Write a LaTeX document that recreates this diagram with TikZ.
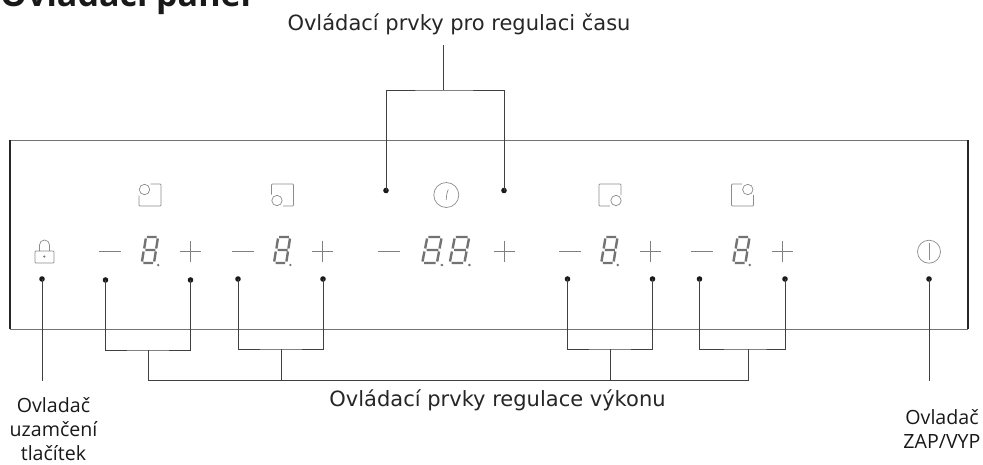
\documentclass[tikz,border=0pt]{standalone}
\usepackage{fontspec}
\setmainfont{Open Sans}
\newfontfamily\wide{DejaVu Sans}
\tikzset{
  x=1pt,y=-1pt,
  leader/.style={draw=black!75!white,line width=0.9pt},
  dotn/.style={circle,fill=black!90,inner sep=0pt,minimum size=5.6pt},
  ico/.style={draw=black!45,line width=0.7pt},
  sym/.style={draw=black!50,line width=0.7pt},
  lab/.style={inner sep=0pt,text=black!90,font=\fontsize{19.6}{24}\selectfont,align=center},
  widelab/.style={inner sep=0pt,text=black!85,font=\wide\fontsize{21}{24}\selectfont,anchor=base},
  seg/.pic={
    \draw[draw=black!55,line width=2.4pt]
      (4.8,0) -- (14.6,0) (15.8,1.5) -- (14.2,11.5) (13.3,13) -- (3.4,13)
      (13.8,14.5) -- (12.2,24.5) (11,26) -- (1.4,26) (0,24.5) -- (1.6,14.5)
      (2.2,11.5) -- (3.8,1.5);
    \fill[black!55] (16.2,28) circle (1.3pt);
  },
  minusp/.pic={\draw[sym] (-11,0) -- (11,0);},
  plusp/.pic={\draw[sym] (-10.5,0) -- (10.5,0) (0,-10.5) -- (0,10.5);}
}
\begin{document}
\begin{tikzpicture}
\useasboundingbox (0,0) rectangle (983,464);
\fill[white] (0,0) rectangle (983,464);
% title
\node[anchor=base west,inner sep=0pt,font=\bfseries\fontsize{34}{34}\selectfont,text=black!90] (title) at (0,6.5) {Ovládací panel};
% panel
\draw[draw=black!55,line width=0.8pt] (10,140) -- (968,140);
\draw[draw=black!55,line width=0.8pt] (10,329) -- (968,329);
\draw[draw=black!85,line width=1.2pt] (10,140) -- (10,329);
\draw[draw=black!85,line width=1.2pt] (968,140) -- (968,329);
% labels
\node[widelab] (t1) at (459,30) {Ovládací prvky pro regulaci času};
\node[widelab] (t2) at (497.5,406) {Ovládací prvky regulace výkonu};
\node[lab,anchor=base] (t3) at (53.5,460) {Ovladač\\uzamčení\\tlačítek};
\node[lab,anchor=base] (t4) at (942,448) {Ovladač\\ZAP/VYP};
% dots
\node[dotn] (lock) at (42,279) {};
\node[dotn] (a1) at (105.5,280) {};
\node[dotn] (a2) at (190.5,280) {};
\node[dotn] (b1) at (238,279) {};
\node[dotn] (b2) at (323,279) {};
\node[dotn] (c1) at (567.5,279) {};
\node[dotn] (c2) at (652.5,279) {};
\node[dotn] (e1) at (699.5,279) {};
\node[dotn] (e2) at (785,279) {};
\node[dotn] (pow) at (929,279) {};
\node[dotn] (t1a) at (386,190.5) {};
\node[dotn] (t1b) at (504,190.5) {};
% junctions
\coordinate (ja) at (148,350);
\coordinate (jb) at (281,349);
\coordinate (jc) at (610,349);
\coordinate (je) at (748,349);
\coordinate (jt) at (443,90);
\coordinate (top) at (443,45);
\coordinate (lockend) at (42,380.5);
\coordinate (powend) at (929,380.5);
\coordinate (busa) at (148,380.5);
\coordinate (bush) at (748,380.5);
\coordinate (busb) at (281,380.5);
\coordinate (busc) at (610,380.5);
% connectors
\draw[leader] (lock.center) -- (lockend);
\draw[leader] (pow.center) -- (powend);
\draw[leader] (a1.center) |- (ja) -| (a2.center);
\draw[leader] (b1.center) |- (jb) -| (b2.center);
\draw[leader] (c1.center) |- (jc) -| (c2.center);
\draw[leader] (e1.center) |- (je) -| (e2.center);
\draw[leader] (ja) -- (busa) -- (bush) -- (je);
\draw[leader] (jb) -- (busb);
\draw[leader] (jc) -- (busc);
\draw[leader] (top) -- (jt);
\draw[leader] (t1a.center) |- (jt) -| (t1b.center);
% hob icons
\draw[ico,rounded corners=0.8pt] (150.5,184) -- (161,184) -- (161,206) -- (139,206) -- (139,195.5);
\draw[ico] (144.5,189.5) circle (5.2pt);
\draw[ico,rounded corners=0.8pt] (271.5,194.5) -- (271.5,184) -- (293.5,184) -- (293.5,206) -- (283,206);
\draw[ico] (277,200.5) circle (5.2pt);
\draw[ico,rounded corners=0.8pt] (610,206) -- (599,206) -- (599,184) -- (621,184) -- (621,195);
\draw[ico] (616,200.5) circle (5.2pt);
\draw[ico,rounded corners=0.8pt] (742,184) -- (731.5,184) -- (731.5,206) -- (753.5,206) -- (753.5,195);
\draw[ico] (747.8,189.5) circle (5.2pt);
% digits
\pic at (142,237) {seg};
\pic at (274.2,237) {seg};
\pic at (601.5,237) {seg};
\pic at (733.5,237) {seg};
\pic[xscale=1.2] at (422.5,237) {seg};
\pic[xscale=1.2] at (450,237) {seg};
% minus and plus
\pic at (110,251) {minusp};
\pic at (242.5,251) {minusp};
\pic at (389,251) {minusp};
\pic at (570,251) {minusp};
\pic at (702,251) {minusp};
\pic at (190.6,251) {plusp};
\pic at (322.8,251) {plusp};
\pic at (504,251) {plusp};
\pic at (650.5,251) {plusp};
\pic at (782.5,251) {plusp};
% lock
\draw[ico,rounded corners=0.8pt] (35,251) rectangle (54,263);
\draw[ico] (39.5,251) -- (39.5,245) arc[start angle=180,end angle=0,radius=5pt] -- (49.5,251);
\fill[black!55] (44.3,256.5) circle (1.2pt);
% timer
\draw[ico] (446.3,195) circle (12.5pt);
\draw[ico] (446.3,200) .. controls (446.3,196) and (447,192) .. (448.3,189.5);
% power
\draw[ico] (929,251.7) circle (11.5pt);
\draw[ico] (929,243) -- (929,260);
\end{tikzpicture}
\end{document}
